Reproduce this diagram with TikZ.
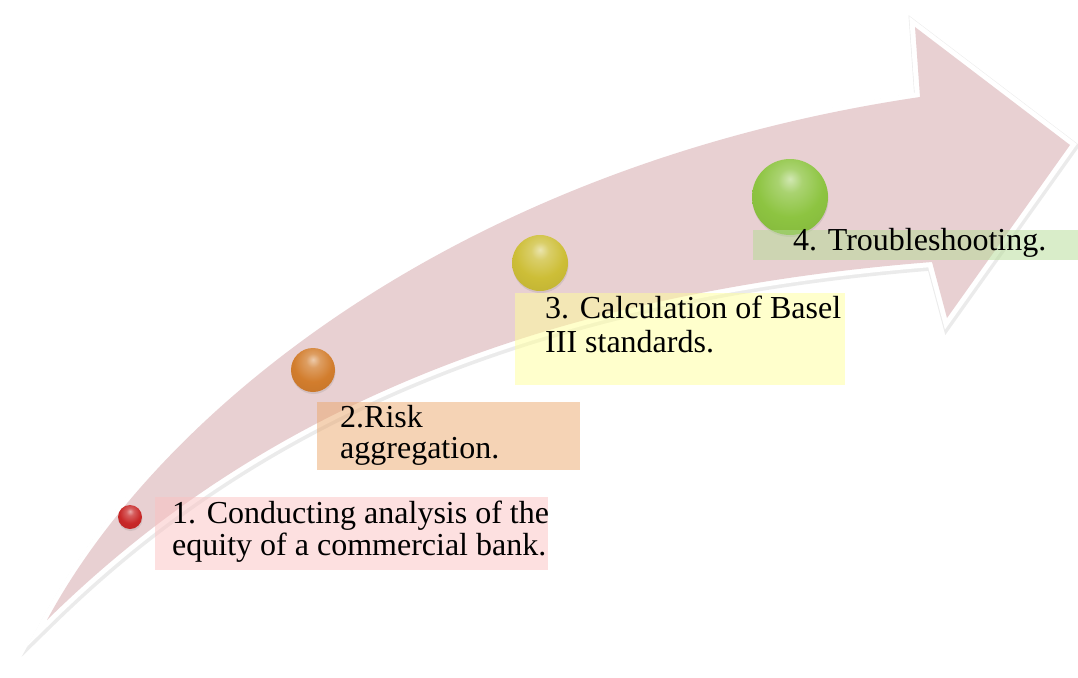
\documentclass[tikz,border=0pt]{standalone}
\usepackage{fontspec}
\setmainfont{Liberation Serif}
\usetikzlibrary{shadows}

\definecolor{arrowpink}{RGB}{232,208,210}
\definecolor{boxred}{RGB}{251,193,193}
\definecolor{boxorange}{RGB}{235,167,107}
\definecolor{boxyellow}{RGB}{255,255,153}
\definecolor{boxgreen}{RGB}{179,219,147}
\definecolor{beadred}{RGB}{200,40,40}
\definecolor{beadorange}{RGB}{210,125,45}
\definecolor{beadyellow}{RGB}{205,190,55}
\definecolor{beadgreen}{RGB}{141,196,65}
\colorlet{beadcol}{beadred}

% glossy bead: light cap near the top, darker rim
\pgfdeclareradialshading[beadcol]{bead}{\pgfpoint{0bp}{12bp}}{%
  color(0bp)=(beadcol!40!white);
  color(8bp)=(beadcol!75!white);
  color(22bp)=(beadcol);
  color(34bp)=(beadcol!95!black);
  color(42bp)=(beadcol!75!black);
  color(62bp)=(beadcol!50!black);
  color(80bp)=(beadcol!50!black)}

\begin{document}
\begin{tikzpicture}[x=1pt,y=-1pt,
  arrowshape/.style={insert path={
    (47,620) .. controls (160,410) and (460,165) .. (920,97)
    -- (915,27) -- (1070,145) -- (947,318) -- (932,262)
    .. controls (450,300) and (200,470) .. (47,620) -- cycle}},
  labelbox/.style={rectangle, inner sep=0pt, outer sep=0pt, anchor=north west, fill opacity=0.5},
  labeltext/.style={inner sep=0pt, anchor=base west, text=black,
    font=\fontsize{32}{33}\selectfont},
  bead/.style={circle, inner sep=0pt, draw=none, shading=bead,
    drop shadow={opacity=0.2, shadow xshift=0.5pt, shadow yshift=-2pt}}]

\useasboundingbox (0,0) rectangle (1078,677);

% curved arrow: soft shadow, white rim, pink body
\path[shift={(1,2)}, draw=black, draw opacity=0.08, fill=black, fill opacity=0.08,
      line width=13pt, line join=miter, miter limit=14][arrowshape];
\path[preaction={draw=white, line width=10pt, line join=miter, miter limit=14},
      fill=arrowpink][arrowshape];

% beads along the arrow
\colorlet{beadcol}{beadred}
\node[bead, minimum size=24pt] (s1) at (130,517) {};
\colorlet{beadcol}{beadorange}
\node[bead, minimum size=44pt] (s2) at (313,370) {};
\colorlet{beadcol}{beadyellow}
\node[bead, minimum size=56pt] (s3) at (540,263) {};
\colorlet{beadcol}{beadgreen}
\node[bead, minimum size=76pt] (s4) at (790,197) {};

% tinted label panels
\node[labelbox, fill=boxred, minimum width=393pt, minimum height=73pt] (b1) at (155,497) {};
\node[labelbox, fill=boxorange, minimum width=263pt, minimum height=68pt] (b2) at (317,402) {};
\node[labelbox, fill=boxyellow, minimum width=330pt, minimum height=92pt] (b3) at (515,293) {};
\node[labelbox, fill=boxgreen, minimum width=325pt, minimum height=30pt] (b4) at (753,230) {};

% label texts
\node[labeltext] (t1a) at (172,523) {1. Conducting analysis of the};
\node[labeltext] (t1b) at (172,555) {equity of a commercial bank.};
\node[labeltext] (t2a) at (340,427) {2.Risk};
\node[labeltext] (t2b) at (340,458) {aggregation.};
\node[labeltext] (t3a) at (545,318) {3. Calculation of Basel};
\node[labeltext] (t3b) at (545,352) {III standards.};
\node[labeltext] (t4) at (793,250) {4. Troubleshooting.};
\end{tikzpicture}
\end{document}
